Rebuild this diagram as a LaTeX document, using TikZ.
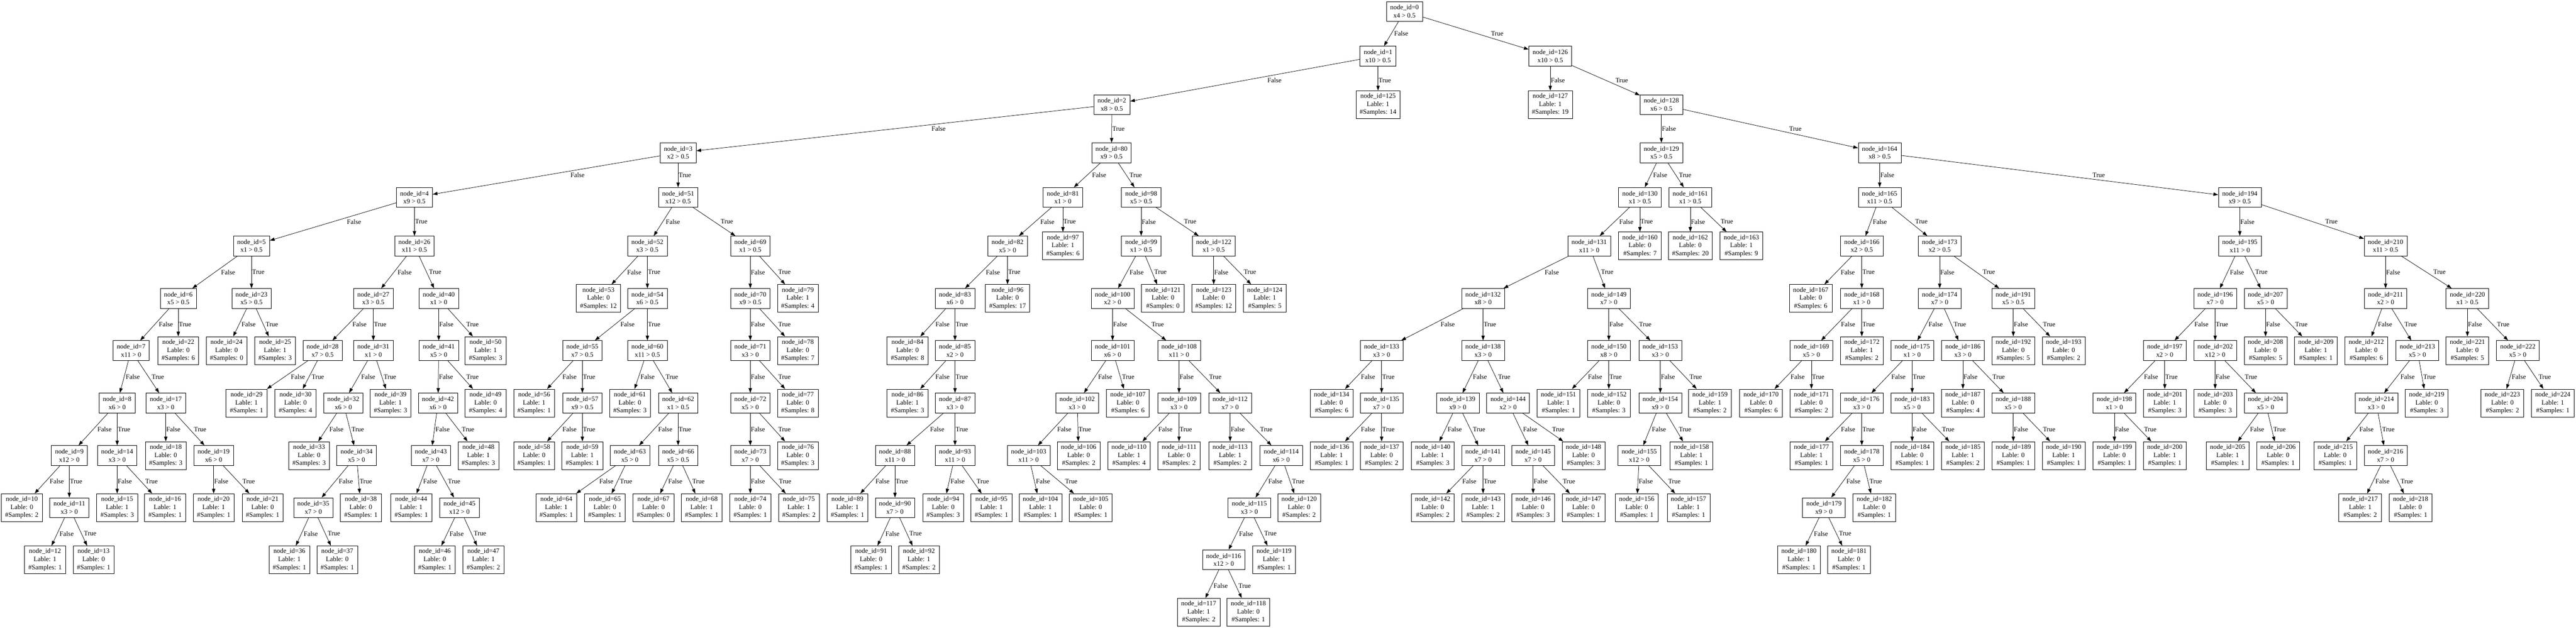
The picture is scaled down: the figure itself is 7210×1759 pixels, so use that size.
\documentclass[tikz,border=0pt]{standalone}
\usepackage{fontspec}
\setmainfont{Liberation Serif}
\usepackage{tikz}
\usetikzlibrary{positioning,calc,arrows.meta}

% split node, leaf node, and one parent-child connector with its label
\newcommand{\splitnode}[4]{\node[decision] (n#1) at (#2,#3) {node\_id=#1\\#4};}
\newcommand{\leafnode}[5]{\node[leaf] (n#1) at (#2,#3) {node\_id=#1\\Lable: #4\\\#Samples: #5};}
\newcommand{\linkto}[3]{%
  \draw[link] (n#1) -- (n#2);
  \path let \p1=(n#1.center), \p2=(n#2.center), \n1={8.4*abs(\x2-\x1)/(\y1-\y2)} in
    node[branchlabel] at ($(\p1)!0.5!(\p2)+(\n1,0)$) {#3};}
\newcommand{\branch}[3]{\linkto{#1}{#2}{False}\linkto{#1}{#3}{True}}

\begin{document}
\begin{tikzpicture}[x=0.75pt, y=-0.75pt,
    font=\fontsize{14}{16.8}\selectfont,
    decision/.style={draw, line width=0.8pt, align=center, inner xsep=7.9pt, inner ysep=0pt, minimum width=54pt, minimum height=41.6pt},
    leaf/.style={draw, line width=0.8pt, align=center, inner xsep=7.9pt, inner ysep=0pt, minimum width=54pt, minimum height=58.4pt},
    link/.style={line width=0.8pt, -{Triangle[length=10pt,width=7pt]}},
    branchlabel/.style={anchor=west, inner xsep=1pt, inner ysep=0pt}]
    \useasboundingbox (0,0) rectangle (7210,1759); % Page
    \fill[white] (0,0) rectangle (7210,1759);

    % rank 0 - 3
    \splitnode{0}{3931}{32}{x4 > 0.5}
    \splitnode{1}{3857}{157}{x10 > 0.5}
    \splitnode{126}{4339}{157}{x10 > 0.5}
    \splitnode{2}{3112}{293}{x8 > 0.5}
    \leafnode{125}{3857}{293}{1}{14}
    \leafnode{127}{4339}{293}{1}{19}
    \splitnode{128}{4650}{293}{x6 > 0.5}
    \splitnode{3}{1898}{428}{x2 > 0.5}
    \splitnode{80}{3111}{428}{x9 > 0.5}
    \splitnode{129}{4650}{428}{x5 > 0.5}
    \splitnode{164}{5261}{428}{x8 > 0.5}

    % rank 4
    \splitnode{4}{1160}{553}{x9 > 0.5}
    \splitnode{51}{1898}{553}{x12 > 0.5}
    \splitnode{81}{2975}{553}{x1 > 0}
    \splitnode{98}{3194}{553}{x5 > 0.5}
    \splitnode{130}{4590}{553}{x1 > 0.5}
    \splitnode{161}{4731}{553}{x1 > 0.5}
    \splitnode{165}{5261}{553}{x11 > 0.5}
    \splitnode{194}{6269}{553}{x9 > 0.5}

    % rank 5
    \splitnode{5}{704}{689}{x1 > 0.5}
    \splitnode{26}{1160}{689}{x11 > 0.5}
    \splitnode{52}{1812}{689}{x3 > 0.5}
    \splitnode{69}{2100}{689}{x1 > 0.5}
    \splitnode{82}{2820}{689}{x5 > 0}
    \leafnode{97}{2975}{689}{1}{6}
    \splitnode{99}{3194}{689}{x1 > 0.5}
    \splitnode{122}{3397}{689}{x1 > 0.5}
    \splitnode{131}{4448}{689}{x11 > 0}
    \leafnode{160}{4590}{689}{0}{7}
    \leafnode{162}{4731}{689}{0}{20}
    \leafnode{163}{4874}{689}{1}{9}
    \splitnode{166}{5211}{689}{x2 > 0.5}
    \splitnode{173}{5429}{689}{x2 > 0.5}
    \splitnode{195}{6269}{689}{x11 > 0}
    \splitnode{210}{6677}{689}{x11 > 0.5}

    % rank 6
    \splitnode{6}{499}{836}{x5 > 0.5}
    \splitnode{23}{704}{836}{x5 > 0.5}
    \splitnode{27}{1045}{836}{x3 > 0.5}
    \splitnode{40}{1228}{836}{x1 > 0}
    \leafnode{53}{1675}{836}{0}{12}
    \splitnode{54}{1812}{836}{x6 > 0.5}
    \splitnode{70}{2100}{836}{x9 > 0.5}
    \leafnode{79}{2233}{836}{1}{4}
    \splitnode{83}{2673}{836}{x6 > 0}
    \leafnode{96}{2820}{836}{0}{17}
    \splitnode{100}{3114}{836}{x2 > 0}
    \leafnode{121}{3255}{836}{0}{0}
    \leafnode{123}{3397}{836}{0}{12}
    \leafnode{124}{3540}{836}{1}{5}
    \splitnode{132}{4151}{836}{x8 > 0}
    \splitnode{149}{4503}{836}{x7 > 0}
    \leafnode{167}{5068}{836}{0}{6}
    \splitnode{168}{5211}{836}{x1 > 0}
    \splitnode{174}{5429}{836}{x7 > 0}
    \splitnode{191}{5635}{836}{x5 > 0.5}
    \splitnode{196}{6200}{836}{x7 > 0}
    \splitnode{207}{6341}{836}{x5 > 0}
    \splitnode{211}{6677}{836}{x2 > 0}
    \splitnode{220}{6906}{836}{x1 > 0.5}

    % rank 7
    \splitnode{7}{367}{982}{x11 > 0}
    \leafnode{22}{499}{982}{0}{6}
    \leafnode{24}{634}{982}{0}{0}
    \leafnode{25}{770}{982}{1}{3}
    \splitnode{28}{903}{982}{x7 > 0.5}
    \splitnode{31}{1045}{982}{x1 > 0}
    \splitnode{41}{1228}{982}{x5 > 0}
    \leafnode{50}{1359}{982}{1}{3}
    \splitnode{55}{1630}{982}{x7 > 0.5}
    \splitnode{60}{1812}{982}{x11 > 0.5}
    \splitnode{71}{2100}{982}{x3 > 0}
    \leafnode{78}{2233}{982}{0}{7}
    \leafnode{84}{2540}{982}{0}{8}
    \splitnode{85}{2673}{982}{x2 > 0}
    \splitnode{101}{3114}{982}{x6 > 0}
    \splitnode{108}{3300}{982}{x11 > 0}
    \splitnode{133}{3867}{982}{x3 > 0}
    \splitnode{138}{4151}{982}{x3 > 0}
    \splitnode{150}{4503}{982}{x8 > 0}
    \splitnode{153}{4647}{982}{x3 > 0}
    \splitnode{169}{5070}{982}{x5 > 0}
    \leafnode{172}{5211}{982}{1}{2}
    \splitnode{175}{5352}{982}{x1 > 0}
    \splitnode{186}{5494}{982}{x3 > 0}
    \leafnode{192}{5635}{982}{0}{5}
    \leafnode{193}{5776}{982}{0}{2}
    \splitnode{197}{6059}{982}{x2 > 0}
    \splitnode{202}{6200}{982}{x12 > 0}
    \leafnode{208}{6341}{982}{0}{5}
    \leafnode{209}{6482}{982}{1}{1}
    \leafnode{212}{6623}{982}{0}{6}
    \splitnode{213}{6766}{982}{x5 > 0}
    \leafnode{221}{6906}{982}{0}{5}
    \splitnode{222}{7047}{982}{x5 > 0}

    % rank 8
    \splitnode{8}{328}{1129}{x6 > 0}
    \splitnode{17}{464}{1129}{x3 > 0}
    \leafnode{29}{690}{1129}{1}{1}
    \leafnode{30}{827}{1129}{0}{4}
    \splitnode{32}{961}{1129}{x6 > 0}
    \leafnode{39}{1093}{1129}{1}{3}
    \splitnode{42}{1226}{1129}{x6 > 0}
    \leafnode{49}{1359}{1129}{0}{4}
    \leafnode{56}{1495}{1129}{1}{1}
    \splitnode{57}{1630}{1129}{x9 > 0.5}
    \leafnode{61}{1763}{1129}{0}{3}
    \splitnode{62}{1898}{1129}{x1 > 0.5}
    \splitnode{72}{2100}{1129}{x5 > 0}
    \leafnode{77}{2233}{1129}{0}{8}
    \leafnode{86}{2540}{1129}{1}{3}
    \splitnode{87}{2673}{1129}{x3 > 0}
    \splitnode{102}{3015}{1129}{x3 > 0}
    \leafnode{107}{3157}{1129}{0}{6}
    \splitnode{109}{3300}{1129}{x3 > 0}
    \splitnode{112}{3443}{1129}{x7 > 0}
    \leafnode{134}{3727}{1129}{0}{6}
    \splitnode{135}{3867}{1129}{x7 > 0}
    \splitnode{139}{4080}{1129}{x9 > 0}
    \splitnode{144}{4221}{1129}{x2 > 0}
    \leafnode{151}{4362}{1129}{1}{1}
    \leafnode{152}{4503}{1129}{0}{3}
    \splitnode{154}{4647}{1129}{x9 > 0}
    \leafnode{159}{4786}{1129}{1}{2}
    \leafnode{170}{4929}{1129}{0}{6}
    \leafnode{171}{5070}{1129}{0}{2}
    \splitnode{176}{5211}{1129}{x3 > 0}
    \splitnode{183}{5352}{1129}{x5 > 0}
    \leafnode{187}{5494}{1129}{0}{4}
    \splitnode{188}{5635}{1129}{x5 > 0}
    \splitnode{198}{5918}{1129}{x1 > 0}
    \leafnode{201}{6059}{1129}{1}{3}
    \leafnode{203}{6200}{1129}{0}{3}
    \splitnode{204}{6341}{1129}{x5 > 0}
    \splitnode{214}{6651}{1129}{x3 > 0}
    \leafnode{219}{6792}{1129}{0}{3}
    \leafnode{223}{7004}{1129}{0}{2}
    \leafnode{224}{7145}{1129}{1}{1}

    % rank 9
    \splitnode{9}{194}{1276}{x12 > 0}
    \splitnode{14}{328}{1276}{x3 > 0}
    \leafnode{18}{464}{1276}{0}{3}
    \splitnode{19}{598}{1276}{x6 > 0}
    \leafnode{33}{865}{1276}{0}{3}
    \splitnode{34}{998}{1276}{x5 > 0}
    \splitnode{43}{1206}{1276}{x7 > 0}
    \leafnode{48}{1339}{1276}{1}{3}
    \leafnode{58}{1495}{1276}{0}{1}
    \leafnode{59}{1630}{1276}{1}{1}
    \splitnode{63}{1763}{1276}{x5 > 0}
    \splitnode{66}{1898}{1276}{x5 > 0.5}
    \splitnode{73}{2100}{1276}{x7 > 0}
    \leafnode{76}{2233}{1276}{0}{3}
    \splitnode{88}{2505}{1276}{x11 > 0}
    \splitnode{93}{2673}{1276}{x11 > 0}
    \splitnode{103}{2879}{1276}{x11 > 0}
    \leafnode{106}{3019}{1276}{0}{2}
    \leafnode{110}{3160}{1276}{1}{4}
    \leafnode{111}{3300}{1276}{0}{2}
    \leafnode{113}{3443}{1276}{1}{2}
    \splitnode{114}{3586}{1276}{x6 > 0}
    \leafnode{136}{3727}{1276}{1}{1}
    \leafnode{137}{3867}{1276}{0}{2}
    \leafnode{140}{4010}{1276}{1}{3}
    \splitnode{141}{4151}{1276}{x7 > 0}
    \splitnode{145}{4291}{1276}{x7 > 0}
    \leafnode{148}{4432}{1276}{0}{3}
    \splitnode{155}{4588}{1276}{x12 > 0}
    \leafnode{158}{4734}{1276}{1}{1}
    \leafnode{177}{5070}{1276}{1}{1}
    \splitnode{178}{5211}{1276}{x5 > 0}
    \leafnode{184}{5352}{1276}{0}{1}
    \leafnode{185}{5494}{1276}{1}{2}
    \leafnode{189}{5635}{1276}{0}{1}
    \leafnode{190}{5776}{1276}{1}{1}
    \leafnode{199}{5918}{1276}{0}{1}
    \leafnode{200}{6059}{1276}{1}{1}
    \leafnode{205}{6235}{1276}{1}{1}
    \leafnode{206}{6376}{1276}{0}{1}
    \leafnode{215}{6536}{1276}{0}{1}
    \splitnode{216}{6677}{1276}{x7 > 0}

    % rank 10
    \leafnode{10}{61}{1422}{0}{2}
    \splitnode{11}{194}{1422}{x3 > 0}
    \leafnode{15}{328}{1422}{1}{3}
    \leafnode{16}{462}{1422}{1}{1}
    \leafnode{20}{598}{1422}{1}{1}
    \leafnode{21}{735}{1422}{0}{1}
    \splitnode{35}{877}{1422}{x7 > 0}
    \leafnode{38}{1010}{1422}{0}{1}
    \leafnode{44}{1151}{1422}{1}{1}
    \splitnode{45}{1286}{1422}{x12 > 0}
    \leafnode{64}{1557}{1422}{1}{1}
    \leafnode{65}{1693}{1422}{0}{1}
    \leafnode{67}{1829}{1422}{0}{0}
    \leafnode{68}{1964}{1422}{1}{1}
    \leafnode{74}{2100}{1422}{0}{1}
    \leafnode{75}{2236}{1422}{1}{2}
    \leafnode{89}{2372}{1422}{1}{1}
    \splitnode{90}{2505}{1422}{x7 > 0}
    \leafnode{94}{2640}{1422}{0}{3}
    \leafnode{95}{2775}{1422}{1}{1}
    \leafnode{104}{2912}{1422}{1}{1}
    \leafnode{105}{3053}{1422}{0}{1}
    \splitnode{115}{3497}{1422}{x3 > 0}
    \leafnode{120}{3636}{1422}{0}{2}
    \leafnode{142}{4010}{1422}{0}{2}
    \leafnode{143}{4151}{1422}{1}{2}
    \leafnode{146}{4291}{1422}{0}{3}
    \leafnode{147}{4432}{1422}{0}{1}
    \leafnode{156}{4581}{1422}{0}{1}
    \leafnode{157}{4726}{1422}{1}{1}
    \splitnode{179}{5105}{1422}{x9 > 0}
    \leafnode{182}{5246}{1422}{0}{1}
    \leafnode{217}{6606}{1422}{1}{2}
    \leafnode{218}{6747}{1422}{0}{1}

    % rank 11 - 12
    \leafnode{12}{126}{1568}{1}{1}
    \leafnode{13}{262}{1568}{0}{1}
    \leafnode{36}{810}{1568}{1}{1}
    \leafnode{37}{944}{1568}{0}{1}
    \leafnode{46}{1217}{1568}{0}{1}
    \leafnode{47}{1353}{1568}{1}{2}
    \leafnode{91}{2438}{1568}{0}{1}
    \leafnode{92}{2572}{1568}{1}{2}
    \splitnode{116}{3425}{1568}{x12 > 0}
    \leafnode{119}{3566}{1568}{1}{1}
    \leafnode{180}{5035}{1568}{1}{1}
    \leafnode{181}{5175}{1568}{0}{1}
    \leafnode{117}{3355}{1715}{1}{2}
    \leafnode{118}{3494}{1715}{0}{1}

    % connectors: parent, False child, True child
    \branch{0}{1}{126}
    \branch{1}{2}{125}
    \branch{2}{3}{80}
    \branch{3}{4}{51}
    \branch{4}{5}{26}
    \branch{5}{6}{23}
    \branch{6}{7}{22}
    \branch{7}{8}{17}
    \branch{8}{9}{14}
    \branch{9}{10}{11}
    \branch{11}{12}{13}
    \branch{14}{15}{16}
    \branch{17}{18}{19}
    \branch{19}{20}{21}
    \branch{23}{24}{25}
    \branch{26}{27}{40}
    \branch{27}{28}{31}
    \branch{28}{29}{30}
    \branch{31}{32}{39}
    \branch{32}{33}{34}
    \branch{34}{35}{38}
    \branch{35}{36}{37}
    \branch{40}{41}{50}
    \branch{41}{42}{49}
    \branch{42}{43}{48}
    \branch{43}{44}{45}
    \branch{45}{46}{47}
    \branch{51}{52}{69}
    \branch{52}{53}{54}
    \branch{54}{55}{60}
    \branch{55}{56}{57}
    \branch{57}{58}{59}
    \branch{60}{61}{62}
    \branch{62}{63}{66}
    \branch{63}{64}{65}
    \branch{66}{67}{68}
    \branch{69}{70}{79}
    \branch{70}{71}{78}
    \branch{71}{72}{77}
    \branch{72}{73}{76}
    \branch{73}{74}{75}
    \branch{80}{81}{98}
    \branch{81}{82}{97}
    \branch{82}{83}{96}
    \branch{83}{84}{85}
    \branch{85}{86}{87}
    \branch{87}{88}{93}
    \branch{88}{89}{90}
    \branch{90}{91}{92}
    \branch{93}{94}{95}
    \branch{98}{99}{122}
    \branch{99}{100}{121}
    \branch{100}{101}{108}
    \branch{101}{102}{107}
    \branch{102}{103}{106}
    \branch{103}{104}{105}
    \branch{108}{109}{112}
    \branch{109}{110}{111}
    \branch{112}{113}{114}
    \branch{114}{115}{120}
    \branch{115}{116}{119}
    \branch{116}{117}{118}
    \branch{122}{123}{124}
    \branch{126}{127}{128}
    \branch{128}{129}{164}
    \branch{129}{130}{161}
    \branch{130}{131}{160}
    \branch{131}{132}{149}
    \branch{132}{133}{138}
    \branch{133}{134}{135}
    \branch{135}{136}{137}
    \branch{138}{139}{144}
    \branch{139}{140}{141}
    \branch{141}{142}{143}
    \branch{144}{145}{148}
    \branch{145}{146}{147}
    \branch{149}{150}{153}
    \branch{150}{151}{152}
    \branch{153}{154}{159}
    \branch{154}{155}{158}
    \branch{155}{156}{157}
    \branch{161}{162}{163}
    \branch{164}{165}{194}
    \branch{165}{166}{173}
    \branch{166}{167}{168}
    \branch{168}{169}{172}
    \branch{169}{170}{171}
    \branch{173}{174}{191}
    \branch{174}{175}{186}
    \branch{175}{176}{183}
    \branch{176}{177}{178}
    \branch{178}{179}{182}
    \branch{179}{180}{181}
    \branch{183}{184}{185}
    \branch{186}{187}{188}
    \branch{188}{189}{190}
    \branch{191}{192}{193}
    \branch{194}{195}{210}
    \branch{195}{196}{207}
    \branch{196}{197}{202}
    \branch{197}{198}{201}
    \branch{198}{199}{200}
    \branch{202}{203}{204}
    \branch{204}{205}{206}
    \branch{207}{208}{209}
    \branch{210}{211}{220}
    \branch{211}{212}{213}
    \branch{213}{214}{219}
    \branch{214}{215}{216}
    \branch{216}{217}{218}
    \branch{220}{221}{222}
    \branch{222}{223}{224}
\end{tikzpicture}
\end{document}
